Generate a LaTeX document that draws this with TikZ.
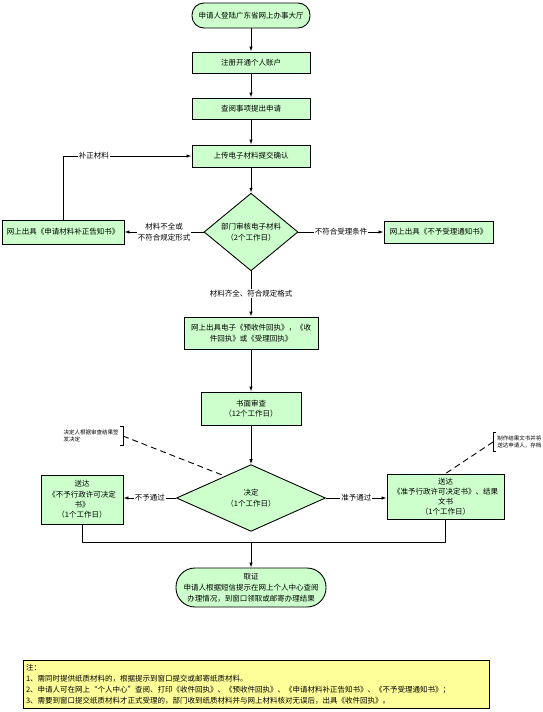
\documentclass[tikz,border=0pt]{standalone}
\usepackage{fontspec}
\setmainfont{Noto Sans CJK SC}
\usetikzlibrary{shapes.geometric,arrows.meta,calc}

\definecolor{boxgreen}{RGB}{204,255,204}
\definecolor{noteyellow}{RGB}{255,255,153}

\begin{document}
\begin{tikzpicture}[x=1pt,y=-1pt,line width=0.9pt,>={Latex[length=5pt,width=3.5pt]}]

    \def\xmid{251}
    \def\ybranch{232}
    \def\ydecide{498}

    % Styles
    \tikzstyle{procbox}=[draw,fill=boxgreen,rectangle,inner sep=1pt,align=center,font=\fontsize{7.5}{10.5}\selectfont]
    \tikzstyle{termbox}=[procbox,rounded corners=12pt]
    \tikzstyle{decbox}=[draw,fill=boxgreen,diamond,inner sep=0pt,align=center,font=\fontsize{7.5}{10.5}\selectfont]
    \tikzstyle{edgelabel}=[fill=white,inner sep=1pt,align=center,font=\fontsize{7.5}{10.5}\selectfont]
    \tikzstyle{notetext}=[align=left,inner xsep=0pt,inner ysep=3pt,font=\fontsize{5.5}{7}\selectfont]

    \path[fill=white] (0,0) rectangle (542,712);
    \useasboundingbox (0,0) rectangle (542,712);

    % online application
    \node[termbox,minimum width=118pt,minimum height=25pt] (start) at (\xmid,15.5) {申请人登陆广东省网上办事大厅};
    \node[procbox,minimum width=118pt,minimum height=21pt] (register) at (\xmid,62.5) {注册开通个人账户};
    \node[procbox,minimum width=118pt,minimum height=21pt] (apply) at (\xmid,108.5) {查阅事项提出申请};
    \node[procbox,minimum width=118pt,minimum height=22pt] (upload) at (\xmid,156) {上传电子材料提交确认};

    \draw[->] (start) -- (register);
    \draw[->] (register) -- (apply);
    \draw[->] (apply) -- (upload);

    % check of the electronic material
    \node[decbox,minimum width=94pt,minimum height=70pt] (check) at (\xmid,\ybranch) {部门审核电子材料\\（2个工作日）};
    \node[procbox,minimum width=122pt,minimum height=24pt] (supplement) at (63,\ybranch) {网上出具《申请材料补正告知书》};
    \node[procbox,minimum width=109pt,minimum height=22pt] (refuse) at (438.5,\ybranch) {网上出具《不予受理通知书》};

    \draw[->] (upload) -- (check);
    \draw[->] (check) -- node[edgelabel] {材料不全或\\不符合规定形式} (supplement);
    \draw[->] (supplement.north) |- node[edgelabel,pos=0.62] {补正材料} (upload.west);
    \draw[->] (check) -- node[edgelabel] {不符合受理条件} (refuse);

    % receipt and review
    \node[procbox,minimum width=134pt,minimum height=32pt] (receipt) at (\xmid,333) {网上出具电子《预收件回执》，《收\\件回执》或《受理回执》};
    \node[procbox,minimum width=100pt,minimum height=33pt] (review) at (\xmid,408.5) {书面审查\\（12个工作日）};

    \draw[->] (check) -- node[edgelabel] {材料齐全、符合规定格式} (receipt);
    \draw[->] (receipt) -- (review);

    % decision
    \node[decbox,minimum width=149pt,minimum height=52pt] (decide) at (\xmid,\ydecide) {决定\\（1个工作日）};
    \node[procbox,minimum width=82pt,minimum height=49pt,font=\fontsize{7.5}{10.3}\selectfont] (deny) at (82,499.5) {送达\\《不予行政许可决定\\书》\\（1个工作日）};
    \node[procbox,minimum width=117pt,minimum height=45pt,font=\fontsize{7.5}{10}\selectfont] (grant) at (445.5,496.5) {送达\\《准予行政许可决定书》、结果\\文书\\（1个工作日）};

    \draw[->] (review) -- (decide);
    \draw[->] (decide.west) -- node[edgelabel] {不予通过} (decide.west -| deny.east);
    \draw[->] (decide.east) -- node[edgelabel] {准予通过} (decide.east -| grant.west);

    % notes on the decision
    \node[notetext,anchor=east] (signnote) at (119,436) {决定人根据审查结果签\\发决定};
    \draw[line width=0.6pt] ([xshift=1pt]signnote.north east) -- ++(3,0) -- ([xshift=4pt]signnote.south east) -- ++(-3,0);
    \draw[dashed,dash pattern=on 6pt off 4pt] ([xshift=4pt]signnote.east) -- ($(decide.west)!0.65!(decide.north)$);

    \node[notetext,anchor=west] (filenote) at (497,442) {制作结果文书并将\\送达申请人，存档};
    \draw[line width=0.6pt] ([xshift=-1pt]filenote.north west) -- ++(-3,0) -- ([xshift=-4pt]filenote.south west) -- ++(3,0);
    \draw[dashed,dash pattern=on 6pt off 4pt] ([xshift=-4pt]filenote.west) -- (grant.north);

    % result
    \node[termbox,rounded corners=19pt,minimum width=150pt,minimum height=39pt,font=\fontsize{7.5}{11}\selectfont] (finish) at (\xmid,587.5) {取证\\申请人根据短信提示在网上个人中心查阅\\办理情况，到窗口领取或邮寄办理结果};

    \coordinate (merge) at (\xmid,542);
    \draw (deny.south) |- (merge);
    \draw (grant.south) |- (merge);
    \draw[->] (merge) -- (finish);

    % notes
    \node[draw,fill=noteyellow,minimum width=466pt,minimum height=48pt,text width=460pt,inner sep=3pt,align=left,font=\fontsize{7.5}{11}\selectfont] (notes) at (256,684) {注：\\1、需同时提供纸质材料的，根据提示到窗口提交或邮寄纸质材料。\\2、申请人可在网上“个人中心”查阅、打印《收件回执》、《预收件回执》、《申请材料补正告知书》、《不予受理通知书》；\\3、需要到窗口提交纸质材料才正式受理的，部门收到纸质材料并与网上材料核对无误后，出具《收件回执》。};

\end{tikzpicture}
\end{document}
